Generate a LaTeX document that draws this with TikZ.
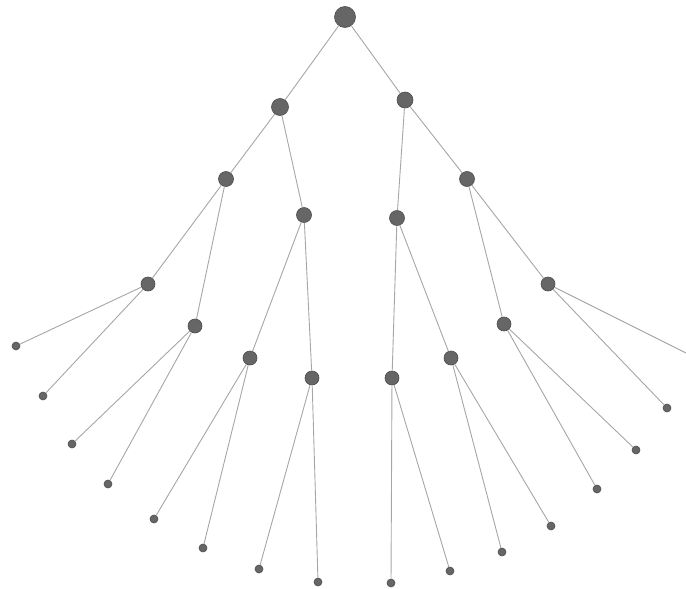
\documentclass[tikz,border=0pt]{standalone}
\begin{document}
\begin{tikzpicture}[x=1pt,y=-1pt,
  edge/.style={draw=black!35,line width=0.9pt},
  big/.style={circle,fill=black!60,draw=black!70,line width=0.6pt,inner sep=0pt,minimum size=#1}]
\useasboundingbox (0,0) rectangle (686,589);
\node[big=21pt] (r) at (345,17) {};
\node[big=17pt] (a) at (280,107) {};
\node[big=16pt] (b) at (405,100) {};
\node[big=15pt] (aa) at (226,179) {};
\node[big=15pt] (ab) at (304,215) {};
\node[big=15pt] (ba) at (397,218) {};
\node[big=15pt] (bb) at (467,179) {};
\node[big=14pt] (aaa) at (148,284) {};
\node[big=14pt] (aab) at (195,326) {};
\node[big=14pt] (aba) at (250,358) {};
\node[big=14pt] (abb) at (312,378) {};
\node[big=14pt] (baa) at (392,378) {};
\node[big=14pt] (bab) at (451,358) {};
\node[big=14pt] (bba) at (504,324) {};
\node[big=14pt] (bbb) at (548,284) {};
\node[big=8pt] (l1) at (16,346) {};
\node[big=8pt] (l2) at (43,396) {};
\node[big=8pt] (l3) at (72,444) {};
\node[big=8pt] (l4) at (108,484) {};
\node[big=8pt] (l5) at (154,519) {};
\node[big=8pt] (l6) at (203,548) {};
\node[big=8pt] (l7) at (259,569) {};
\node[big=8pt] (l8) at (318,582) {};
\node[big=8pt] (l9) at (391,583) {};
\node[big=8pt] (l10) at (450,571) {};
\node[big=8pt] (l11) at (502,552) {};
\node[big=8pt] (l12) at (551,526) {};
\node[big=8pt] (l13) at (597,489) {};
\node[big=8pt] (l14) at (636,450) {};
\node[big=8pt] (l15) at (667,408) {};
\coordinate (l16) at (686,353);
\foreach \p/\c in {r/a,r/b,a/aa,a/ab,b/ba,b/bb,aa/aaa,aa/aab,ab/aba,ab/abb,ba/baa,ba/bab,bb/bba,bb/bbb,
  aaa/l1,aaa/l2,aab/l3,aab/l4,aba/l5,aba/l6,abb/l7,abb/l8,baa/l9,baa/l10,bab/l11,bab/l12,bba/l13,bba/l14,bbb/l15,bbb/l16}
  \draw[edge] (\p) -- (\c);
\end{tikzpicture}
\end{document}
